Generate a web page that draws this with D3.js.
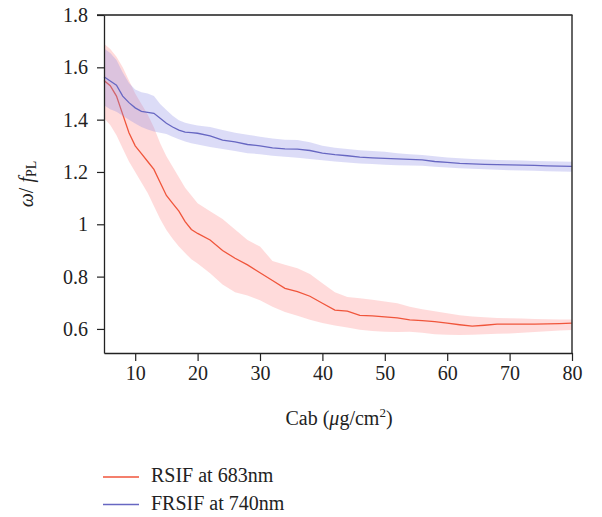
<!DOCTYPE html>
<html>
<head>
<meta charset="utf-8">
<script src="https://cdn.jsdelivr.net/npm/d3@7"></script>
<style>
  body { margin: 0; background: #fff; }
  text { font-family: "Liberation Serif", "Times New Roman", serif; fill: #222; }
</style>
</head>
<body>
<div id="chart"></div>
<script>
// Chlorophyll content (x)
var cab = [5,6,7,8,9,10,11,12,13,14,15,16,17,18,19,20,22,24,26,28,30,32,34,36,38,40,
           42,44,46,48,50,52,54,56,58,60,62,64,66,68,70,72,74,76,78,80];

// RSIF at 683nm: mean, upper and lower band
var rsifMean = [1.55,1.53,1.49,1.42,1.35,1.30,1.27,1.24,1.21,1.16,1.11,1.08,1.05,1.01,0.98,0.965,
                0.94,0.90,0.87,0.845,0.815,0.785,0.755,0.743,0.725,0.698,0.672,0.668,0.652,0.650,
                0.646,0.642,0.635,0.632,0.628,0.622,0.616,0.611,0.614,0.618,0.618,0.618,0.618,0.619,0.620,0.622];
var rsifUpper = [1.69,1.67,1.64,1.60,1.55,1.50,1.46,1.42,1.37,1.31,1.26,1.22,1.18,1.14,1.11,1.08,
                 1.05,1.02,0.98,0.94,0.915,0.86,0.845,0.832,0.81,0.775,0.74,0.722,0.717,0.712,
                 0.705,0.698,0.685,0.675,0.668,0.66,0.652,0.648,0.645,0.642,0.641,0.640,0.638,0.637,0.636,0.636];
var rsifLower = [1.405,1.38,1.34,1.29,1.24,1.20,1.16,1.12,1.07,1.02,0.978,0.945,0.915,0.89,0.866,0.85,
                 0.813,0.77,0.74,0.728,0.71,0.685,0.665,0.65,0.635,0.623,0.613,0.605,0.597,0.592,
                 0.589,0.588,0.589,0.585,0.580,0.578,0.577,0.578,0.580,0.582,0.583,0.585,0.588,0.591,0.594,0.596];

// FRSIF at 740nm: mean, upper and lower band
var frsifMean = [1.564,1.548,1.532,1.49,1.465,1.445,1.432,1.428,1.424,1.405,1.386,1.372,1.36,1.352,1.350,1.348,
                 1.338,1.322,1.315,1.305,1.300,1.292,1.288,1.287,1.282,1.272,1.266,1.262,1.257,1.254,
                 1.252,1.250,1.248,1.246,1.240,1.237,1.233,1.231,1.229,1.228,1.227,1.226,1.225,1.223,1.222,1.221];
var frsifUpper = [1.672,1.655,1.628,1.58,1.54,1.515,1.505,1.50,1.49,1.46,1.437,1.415,1.398,1.388,1.382,1.378,
                  1.372,1.36,1.35,1.342,1.335,1.328,1.323,1.322,1.314,1.30,1.293,1.288,1.283,1.28,
                  1.277,1.272,1.268,1.265,1.26,1.255,1.252,1.25,1.248,1.246,1.245,1.244,1.242,1.241,1.240,1.239];
var frsifLower = [1.455,1.44,1.43,1.415,1.40,1.385,1.372,1.362,1.355,1.35,1.345,1.335,1.325,1.316,1.31,1.305,
                  1.295,1.288,1.28,1.272,1.268,1.262,1.258,1.254,1.25,1.245,1.24,1.236,1.232,1.23,
                  1.228,1.226,1.225,1.224,1.22,1.217,1.214,1.212,1.21,1.208,1.207,1.206,1.205,1.203,1.202,1.201];

var xTicks = [10,20,30,40,50,60,70,80];
var yTicks = [0.6,0.8,1,1.2,1.4,1.6,1.8];
var legendNames = ["RSIF at 683nm", "FRSIF at 740nm"];

// Size settings (plot box edges)
var width = 602, height = 517;
var plotL = 104, plotR = 572, plotT = 15, plotB = 353;

var xScale = d3.scaleLinear().domain([5, 80]).range([plotL, plotR]);
var yScale = d3.scaleLinear().domain([0.508, 1.8]).range([plotB, plotT]);

var svg = d3.select("#chart").append("svg")
    .attr("width", width)
    .attr("height", height);

function rows(mean, upper, lower) {
    return cab.map(function(c, i) { return {x: c, m: mean[i], u: upper[i], l: lower[i]}; });
}
var series = [
    {name: legendNames[0], data: rows(rsifMean, rsifUpper, rsifLower), line: "#f0553b", band: "#ff9a9a", op: 0.36},
    {name: legendNames[1], data: rows(frsifMean, frsifUpper, frsifLower), line: "#6767c2", band: "#8c8ce6", op: 0.3}
];

var area = d3.area()
    .x(function(d) { return xScale(d.x); })
    .y0(function(d) { return yScale(d.l); })
    .y1(function(d) { return yScale(d.u); });
var line = d3.line()
    .x(function(d) { return xScale(d.x); })
    .y(function(d) { return yScale(d.m); });

series.forEach(function(s) {
    svg.append("path")
        .attr("d", area(s.data))
        .attr("fill", s.band)
        .attr("fill-opacity", s.op);
    svg.append("path")
        .attr("d", line(s.data))
        .attr("fill", "none")
        .attr("stroke", s.line)
        .attr("stroke-width", 1.3);
});

// Frame: top and right lines
svg.append("line")
    .attr("x1", plotL - 7).attr("x2", plotR + 0.5)
    .attr("y1", plotT).attr("y2", plotT)
    .attr("stroke", "#555").attr("stroke-width", 2);
svg.append("line")
    .attr("x1", plotR).attr("x2", plotR)
    .attr("y1", plotT).attr("y2", plotB)
    .attr("stroke", "#333").attr("stroke-width", 1.5);

// Axes
var xAxis = svg.append("g")
    .attr("transform", "translate(0," + plotB + ")")
    .call(d3.axisBottom(xScale).tickValues(xTicks).tickSize(8).tickSizeOuter(0).tickPadding(5));
var yAxis = svg.append("g")
    .attr("transform", "translate(" + plotL + ",0)")
    .call(d3.axisLeft(yScale).tickValues(yTicks).tickSize(7).tickSizeOuter(0).tickPadding(9)
        .tickFormat(function(d) { return String(d); }));

[xAxis, yAxis].forEach(function(g) {
    g.attr("font-family", null);
    g.select(".domain").attr("stroke", "#222").attr("stroke-width", 1.3);
    g.selectAll(".tick line").attr("stroke", "#222").attr("stroke-width", 1.2);
    g.selectAll(".tick text")
        .style("font-family", "'Liberation Serif', serif")
        .style("font-size", "20px")
        .attr("fill", "#222");
});

// Axis titles
var xt = svg.append("text")
    .attr("x", (plotL + plotR) / 2 + 1)
    .attr("y", 425)
    .attr("text-anchor", "middle")
    .style("font-size", "20px");
xt.append("tspan").text("Cab (");
xt.append("tspan").style("font-style", "italic").text("\u03bc");
xt.append("tspan").text("g/cm");
xt.append("tspan").attr("dy", -8).style("font-size", "13px").text("2");
xt.append("tspan").attr("dy", 8).text(")");

var yt = svg.append("text")
    .attr("transform", "translate(33,184) rotate(-90)")
    .attr("text-anchor", "middle")
    .style("font-size", "20px");
yt.append("tspan").style("font-style", "italic").text("\u03c9");
yt.append("tspan").text("/ ");
yt.append("tspan").style("font-style", "italic").text("f");
yt.append("tspan").attr("dy", 3).style("font-size", "14px").text("PL");

// Legend
var legend = svg.selectAll(".legend")
    .data(series)
  .enter().append("g")
    .attr("class", "legend")
    .attr("transform", function(d, i) { return "translate(0," + (477 + i * 27.5) + ")"; });
legend.append("line")
    .attr("x1", 103).attr("x2", 139)
    .attr("stroke", function(d) { return d.line; })
    .attr("stroke-width", 1.5);
legend.append("text")
    .attr("x", 151)
    .attr("y", 5)
    .style("font-size", "20px")
    .text(function(d) { return d.name; });
</script>
</body>
</html>
